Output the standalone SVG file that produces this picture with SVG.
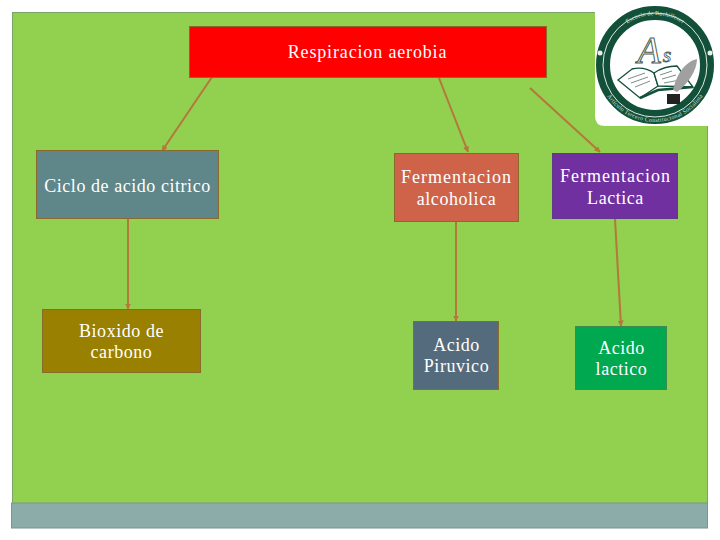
<svg xmlns="http://www.w3.org/2000/svg" width="720" height="540" viewBox="0 0 720 540">
<style>
text{font-family:"Liberation Serif","Times New Roman",serif;font-size:18px;fill:#fff;text-anchor:middle}
.n{stroke:#8a6a2c;stroke-width:1}
.c{stroke:#b5773a;stroke-width:2;fill:none;marker-end:url(#a)}
.s1{letter-spacing:.85px}
.s2{letter-spacing:.55px}
.s3{letter-spacing:1px}
.lt{font-size:6px;fill:#cfe0d6;letter-spacing:.2px}
.pg{fill:#fff;stroke:#12503a;stroke-width:1.300}
.ln{fill:none;stroke:#7a8f85;stroke-width:1}
</style>
<defs>
<marker id="a" viewBox="0 0 6 6" refX="5.5" refY="3" markerWidth="3" markerHeight="3" orient="auto"><path d="M0 0L6 3L0 6z" fill="#b5773a"/></marker>
<path id="top" d="M605 65A50 50 0 0 1 705 65"/>
<path id="bot" d="M600 65A55 55 0 0 0 710 65"/>
</defs>
<rect width="720" height="540" fill="#fff"/>
<g id="background">
<rect x="12.500" y="12.500" width="695" height="491" fill="#92d050" stroke="#7aa36a"/>
<rect x="11.500" y="503" width="696" height="25" fill="#8cacaa" stroke="#7d9492" stroke-width="1"/>
<path d="M595 0V116Q595 126 605 126H720V0z" fill="#fff"/>
</g>
<g id="connectors">
<path class="c" d="M212 77L162 151"/>
<path class="c" d="M439 78L468 152"/>
<path class="c" d="M530 88L600 152"/>
<path class="c" d="M128 219V309"/>
<path class="c" d="M456 222V321"/>
<path class="c" d="M615 219L621 326"/>
</g>
<g id="n1"><rect class="n" x="189.500" y="26.500" width="357" height="51" fill="#f00"/><text class="s1" x="367.500" y="58">Respiracion aerobia</text></g>
<g id="n2"><rect class="n" x="36.500" y="150.500" width="182" height="68" fill="#5f8688"/><text class="s2" x="127.500" y="192">Ciclo de acido citrico</text></g>
<g id="n3"><rect class="n" x="394.500" y="153.500" width="124" height="68" fill="#cf634a"/><text class="s3" x="456.500" y="182.500">Fermentacion</text><text class="s2" x="456.500" y="204.500">alcoholica</text></g>
<g id="n4"><rect x="552.500" y="153.500" width="125" height="65" fill="#7030a0" stroke="#5f3a8a"/><text class="s3" x="615.500" y="181.500">Fermentacion</text><text class="s2" x="615.500" y="203.500">Lactica</text></g>
<g id="n5"><rect class="n" x="42.500" y="309.500" width="158" height="63" fill="#998000"/><text class="s2" x="121.500" y="337">Bioxido de</text><text class="s2" x="121.500" y="358">carbono</text></g>
<g id="n6"><rect class="n" x="413.500" y="321.500" width="85" height="68" fill="#546b7d"/><text class="s2" x="456.500" y="351">Acido</text><text class="s2" x="456.500" y="372">Piruvico</text></g>
<g id="n7"><rect x="575.500" y="326.500" width="91" height="63" fill="#00a84f" stroke="#3d8a50"/><text class="s2" x="621.500" y="354">Acido</text><text class="s2" x="621.500" y="375">lactico</text></g>
<g id="logo">
<circle cx="655" cy="65" r="52" fill="#fff" stroke="#12503a" stroke-width="14"/>
<circle cx="655" cy="65" r="52" fill="none" stroke="#dfeae4" stroke-width="1"/>
<circle cx="600" cy="53" r="2.500" fill="#e8f0ec"/>
<circle cx="710" cy="53" r="2.500" fill="#e8f0ec"/>
<text class="lt"><textPath href="#top" startOffset="50%">Escuela de Bachilleres</textPath></text>
<text class="lt" dy="2"><textPath href="#bot" startOffset="50%">Artículo Tercero Constitucional Socialista</textPath></text>
<text x="649" y="63" style="font-size:38px;font-style:italic;fill:#fff;stroke:#4a5a50;stroke-width:1">A</text>
<text x="667" y="62" style="font-size:22px;font-style:italic;fill:#fff;stroke:#4a5a50;stroke-width:.8">s</text>
<path class="pg" d="M618 80L632 69Q644 66 654 73L658 86L640 98z"/>
<path class="pg" d="M654 73Q664 66 677 66L693 87L658 86z"/>
<path d="M640 98L658 90L693 87" fill="none" stroke="#12503a" stroke-width="2.500"/>
<path class="ln" d="M628 79L645 73M631 83L648 77M635 87L650 81M660 75L672 71M662 79L676 75M664 83L680 80"/>
<path d="M673 90C676 76 684 62 697 59C697 70 688 84 677 92z" fill="#a0a0a0"/>
<rect x="667" y="94" width="13" height="10" fill="#222"/>
</g>
</svg>
